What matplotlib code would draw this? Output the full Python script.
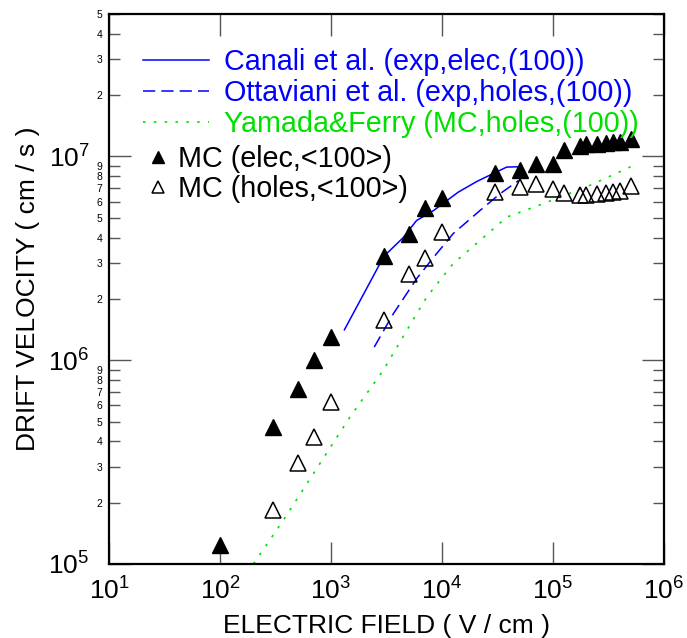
import numpy as np
import matplotlib
matplotlib.use('Agg')
import matplotlib.pyplot as plt
from matplotlib.ticker import LogLocator, FuncFormatter, NullLocator

plt.rcParams['font.family'] = ['Liberation Sans', 'DejaVu Sans']

# Monte Carlo results, <100> direction (field in V/cm, velocity in cm/s)
field_mc_elec = [100, 300, 500, 700, 1e3, 3e3, 5e3, 7e3, 1e4, 3e4, 5e4, 7e4,
                 1e5, 1.25e5, 1.75e5, 2e5, 2.5e5, 3e5, 3.5e5, 4e5, 5e5]
vel_mc_elec = [1.24e5, 4.7e5, 7.2e5, 1.0e6, 1.3e6, 3.24e6, 4.15e6, 5.6e6, 6.27e6,
               8.3e6, 8.55e6, 9.2e6, 9.2e6, 1.07e7, 1.12e7, 1.15e7, 1.15e7,
               1.17e7, 1.18e7, 1.18e7, 1.22e7]

field_mc_holes = [300, 500, 700, 1e3, 3e3, 5e3, 7e3, 1e4, 3e4, 5e4, 7e4,
                  1e5, 1.25e5, 1.75e5, 2e5, 2.5e5, 3e5, 3.5e5, 4e5, 5e5]
vel_mc_holes = [1.84e5, 3.14e5, 4.2e5, 6.25e5, 1.57e6, 2.66e6, 3.17e6, 4.26e6,
                6.7e6, 7.1e6, 7.3e6, 6.9e6, 6.65e6, 6.5e6, 6.5e6, 6.55e6,
                6.6e6, 6.67e6, 6.75e6, 7.2e6]

# reference curves
field_canali = [1320, 3000, 4480, 5900, 8400, 1.4e4, 2.06e4, 2.94e4, 3.83e4, 4.9e4]
vel_canali = [1.41e6, 3.24e6, 4.0e6, 4.85e6, 5.43e6, 6.68e6, 7.54e6, 8.28e6,
              8.87e6, 8.9e6]

field_ottaviani = [2450, 3640, 5900, 8400, 1.26e4, 2.2e4, 3.33e4, 4.9e4]
vel_ottaviani = [1.16e6, 1.69e6, 2.51e6, 3.2e6, 4.18e6, 5.43e6, 6.56e6, 7.62e6]

field_yamada = [200, 372, 743, 1483, 2960, 4810, 7280, 1.26e4, 2.2e4, 3.83e4,
                6.2e4, 1.16e5, 2.15e5, 5e5]
vel_yamada = [1.0e5, 1.64e5, 2.94e5, 5.27e5, 8.93e5, 1.4e6, 2.04e6, 2.98e6,
              3.87e6, 5.04e6, 5.55e6, 6.31e6, 7.21e6, 8.9e6]

blue = '#0000FF'
green = '#00E000'

fig = plt.figure(figsize=(6.87, 6.38), dpi=100)
ax = fig.add_axes([0.1587, 0.116, 0.8078, 0.862])

h_canali, = ax.plot(field_canali, vel_canali, color=blue, lw=1.1,
                    label='Canali et al. (exp,elec,(100))')
h_ottaviani, = ax.plot(field_ottaviani, vel_ottaviani, color=blue, lw=1.1,
                       dashes=(8, 4), label='Ottaviani et al. (exp,holes,(100))')
h_yamada, = ax.plot(field_yamada, vel_yamada, color=green, lw=1.2,
                    dashes=(1.5, 5), label='Yamada&Ferry (MC,holes,(100))')
h_elec, = ax.plot(field_mc_elec, vel_mc_elec, ls='none', marker='^', ms=11,
                  color='black', label='MC (elec,<100>)')
h_holes, = ax.plot(field_mc_holes, vel_mc_holes, ls='none', marker='^', ms=11,
                   mfc='none', mec='black', mew=1.1, label='MC (holes,<100>)')

ax.set_xscale('log')
ax.set_yscale('log')
ax.set_xlim(10, 1e6)
ax.set_ylim(1e5, 5e7)

power_fmt = FuncFormatter(lambda v, pos: r'$\mathregular{10^{%d}}$' % round(np.log10(v)))
digit_fmt = FuncFormatter(lambda v, pos: '%d' % round(v / 10 ** np.floor(np.log10(v) + 1e-9)))

ax.xaxis.set_major_locator(LogLocator(base=10, numticks=10))
ax.xaxis.set_major_formatter(power_fmt)
ax.xaxis.set_minor_locator(NullLocator())
ax.yaxis.set_major_locator(LogLocator(base=10, numticks=10))
ax.yaxis.set_major_formatter(power_fmt)
ax.yaxis.set_minor_locator(LogLocator(base=10, subs=range(2, 10), numticks=20))
ax.yaxis.set_minor_formatter(digit_fmt)

tick_grey = '#555555'
ax.tick_params(which='major', direction='in', length=16, width=1, color=tick_grey,
               labelsize=19, top=True, right=True)
ax.tick_params(axis='x', which='major', pad=9.5)
ax.tick_params(axis='y', which='major', pad=14)
ax.tick_params(axis='y', which='minor', direction='in', length=8, width=1,
               color=tick_grey, labelsize=7.5, pad=5, right=True)

for s in ax.spines.values():
    s.set_linewidth(1.6)

ax.set_xlabel('ELECTRIC FIELD ( V / cm )', fontsize=19, labelpad=7)
ax.set_ylabel('DRIFT VELOCITY ( cm / s )', fontsize=19, labelpad=6)

leg1 = ax.legend(handles=[h_canali, h_ottaviani, h_yamada], loc='upper left',
                 bbox_to_anchor=(0.0613, 0.938), frameon=False, fontsize=20.7,
                 handlelength=2.3, handletextpad=0.5, labelspacing=0.11,
                 borderpad=0, borderaxespad=0, labelcolor='linecolor')
ax.add_artist(leg1)
ax.legend(handles=[h_elec, h_holes], loc='upper left',
          bbox_to_anchor=(0.0667, 0.7625), frameon=False, fontsize=20.7,
          handlelength=0.8, handletextpad=0.3, labelspacing=0.09, numpoints=1,
          markerscale=0.8, borderpad=0, borderaxespad=0)

fig.savefig('out.png', dpi=100)
